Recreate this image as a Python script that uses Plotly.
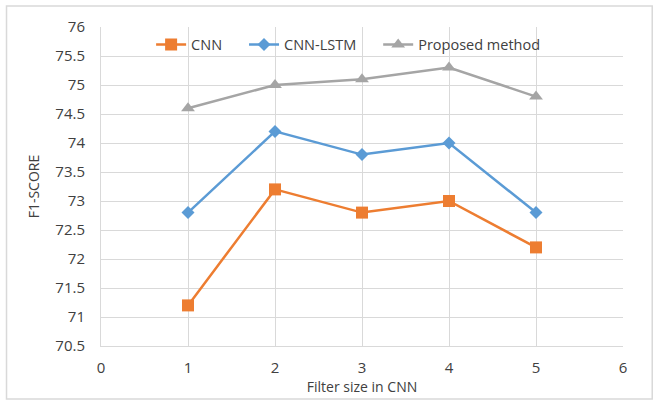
import plotly.graph_objects as go

filter_sizes = [1, 2, 3, 4, 5]
cnn = [71.2, 73.2, 72.8, 73.0, 72.2]
cnn_lstm = [72.8, 74.2, 73.8, 74.0, 72.8]
proposed = [74.6, 75.0, 75.1, 75.3, 74.8]

fig = go.Figure()
fig.add_trace(go.Scatter(x=filter_sizes, y=cnn, name="CNN", mode="lines+markers",
                         line=dict(color="#ED7D31", width=2.5), legend="legend",
                         marker=dict(symbol="square", size=12, color="#ED7D31")))
fig.add_trace(go.Scatter(x=filter_sizes, y=cnn_lstm, name="CNN-LSTM", mode="lines+markers",
                         line=dict(color="#5B9BD5", width=2.5), legend="legend2",
                         marker=dict(symbol="diamond", size=10, color="#5B9BD5")))
fig.add_trace(go.Scatter(x=filter_sizes, y=proposed, name="Proposed method", mode="lines+markers",
                         line=dict(color="#A5A5A5", width=2.5), legend="legend3",
                         marker=dict(symbol="triangle-up", size=12, color="#A5A5A5")))

font = dict(family="Open Sans, Liberation Sans, sans-serif", size=13, color="#404040")
leg = dict(orientation="h", xanchor="left", y=0.995, yanchor="top",
           bgcolor="rgba(0,0,0,0)", font=dict(size=14.5, color="#404040"))
fig.update_layout(
    width=658, height=404,
    margin=dict(l=101, r=35, t=27, b=58),
    paper_bgcolor="white", plot_bgcolor="white",
    font=font,
    showlegend=True,
    legend=dict(leg, x=0.096),
    legend2=dict(leg, x=0.274),
    legend3=dict(leg, x=0.531),
    xaxis=dict(range=[0, 6], dtick=1, showgrid=True, gridcolor="#D9D9D9", gridwidth=1,
               zeroline=False, showline=True, linecolor="#D9D9D9", ticks="",
               ticklabelstandoff=8, automargin=False,
               title=dict(text="Filter size in CNN", standoff=4, font=dict(size=14, color="#404040")),
               tickfont=dict(size=15, color="#404040")),
    yaxis=dict(range=[70.5, 76], dtick=0.5, showgrid=True, gridcolor="#D9D9D9", gridwidth=1,
               zeroline=False, showline=True, linecolor="#D9D9D9", ticks="",
               tickformat="~g", ticklabelstandoff=12, automargin=False,
               title=dict(text="F1-SCORE", standoff=12, font=dict(size=14, color="#404040")),
               tickfont=dict(size=15, color="#404040")),
    shapes=[dict(type="rect", xref="paper", yref="paper", x0=-0.181, x1=1.056, y0=-0.166, y1=1.066,
                 line=dict(color="#D9D9D9", width=1.5))],
)
fig.write_html("out.html")
